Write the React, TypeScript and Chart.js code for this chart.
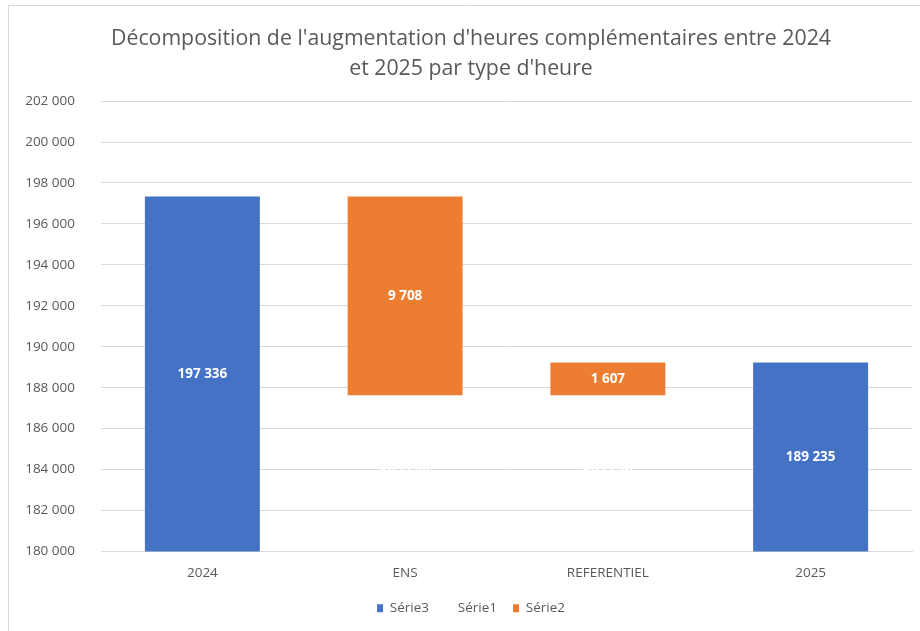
import React, { useEffect, useRef } from "react";
import { Chart, registerables } from "chart.js";

Chart.register(...registerables);

const categories = ["2024", "ENS", "REFERENTIEL", "2025"];
const serie3 = [197336, null, null, 189235];
const serie1 = [null, 187628, 187628, null];
const serie2 = [null, 9708, 1607, null];
const titleLines = [
  "Décomposition de l'augmentation d'heures complémentaires entre 2024",
  "et 2025 par type d'heure",
];
const yMin = 180000;
const yMax = 202000;
const yStep = 2000;

const FONT = "'Open Sans', sans-serif";
const GREY = "#595959";

function fmt(v: number): string {
  const s = Math.round(v).toString();
  return s.replace(/\B(?=(\d{3})+(?!\d))/g, " ");
}

const bgPlugin = {
  id: "bgBorder",
  afterLayout(chart: any) {
    // center title and legend on the Excel chart frame, not the whole canvas
    if (chart.titleBlock) chart.titleBlock.left = 30;
    if (chart.legend) chart.legend.left = 30;
  },
  beforeDraw(chart: any) {
    const ctx = chart.ctx;
    ctx.save();
    ctx.fillStyle = "#ffffff";
    ctx.fillRect(0, 0, chart.width, chart.height);
    ctx.strokeStyle = "#D9D9D9";
    ctx.lineWidth = 1;
    ctx.beginPath();
    ctx.moveTo(8.5, chart.height);
    ctx.lineTo(8.5, 5.5);
    ctx.lineTo(chart.width, 5.5);
    ctx.stroke();
    ctx.restore();
  },
};

const labelPlugin = {
  id: "barLabels",
  afterDatasetsDraw(chart: any) {
    const ctx = chart.ctx;
    const area = chart.chartArea;
    ctx.save();
    ctx.font = `bold 13.5px ${FONT}`;
    ctx.textAlign = "center";
    ctx.textBaseline = "middle";
    ctx.fillStyle = "#ffffff";
    chart.data.datasets.forEach((ds: any, di: number) => {
      const meta = chart.getDatasetMeta(di);
      meta.data.forEach((el: any, i: number) => {
        const v = ds.data[i];
        if (v === null || v === undefined) return;
        const top = Math.max(el.y, area.top);
        const bottom = Math.min(el.base, area.bottom);
        if (bottom <= top) return;
        ctx.fillText(fmt(v), el.x, (top + bottom) / 2);
      });
    });
    ctx.restore();
  },
};

export default function App() {
  const ref = useRef<HTMLCanvasElement | null>(null);

  useEffect(() => {
    if (!ref.current) return;
    const chart = new Chart(ref.current, {
      type: "bar",
      data: {
        labels: categories,
        datasets: [
          {
            label: "Série3",
            data: serie3,
            backgroundColor: "#4472C4",
            borderWidth: 0,
          },
          {
            label: "Série1",
            data: serie1,
            backgroundColor: "rgba(0,0,0,0)",
            borderWidth: 0,
          },
          {
            label: "Série2",
            data: serie2,
            backgroundColor: "#ED7D31",
            borderWidth: 0,
          },
        ] as any,
      },
      options: {
        responsive: false,
        animation: false,
        layout: { padding: { left: 0, right: 8, top: 0, bottom: 6 } },
        datasets: {
          bar: { categoryPercentage: 1, barPercentage: 0.567 },
        } as any,
        plugins: {
          title: {
            display: true,
            text: titleLines,
            color: GREY,
            font: { family: FONT, size: 21.3, weight: "normal", lineHeight: 1.41 },
            padding: { top: 24, bottom: 17 },
          },
          legend: {
            position: "bottom",
            labels: {
              color: GREY,
              font: { family: FONT, size: 13.5 },
              boxWidth: 6,
              boxHeight: 8,
              padding: 16,
            },
          },
          tooltip: { enabled: false },
        },
        scales: {
          x: {
            stacked: true,
            grid: { display: false, drawTicks: false },
            border: { display: true, color: "#D9D9D9" },
            ticks: {
              color: GREY,
              font: { family: FONT, size: 13.5 },
              padding: 14,
              maxRotation: 0,
            },
            afterFit(scale: any) {
              scale.height = 34;
            },
          },
          y: {
            stacked: true,
            min: yMin,
            max: yMax,
            grid: { color: "#D9D9D9", drawTicks: false },
            border: { display: false },
            ticks: {
              stepSize: yStep,
              color: GREY,
              font: { family: FONT, size: 13.5 },
              padding: 26,
              callback: (v: any) => fmt(Number(v)),
            },
            afterFit(scale: any) {
              scale.width = 101;
            },
          },
        },
      } as any,
      plugins: [bgPlugin, labelPlugin],
    });
    return () => chart.destroy();
  }, []);

  return (
    <div style={{ position: "fixed", left: 0, top: 0, width: 920, height: 631, background: "#fff" }}>
      <canvas ref={ref} width={920} height={631} style={{ display: "block" }} />
    </div>
  );
}
